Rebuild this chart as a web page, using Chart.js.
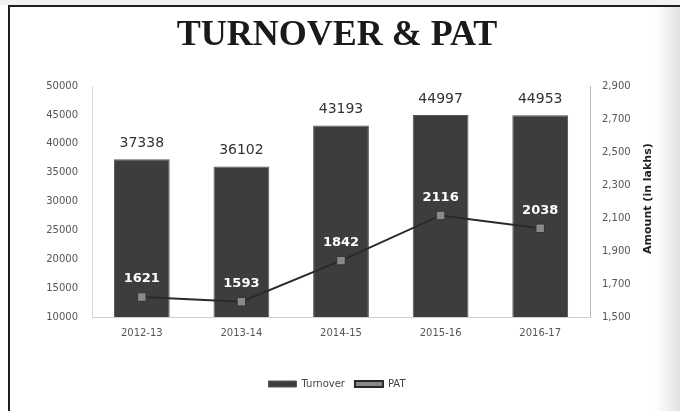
<!DOCTYPE html>
<html>
<head>
<meta charset="utf-8">
<script src="https://cdn.jsdelivr.net/npm/chart.js@4/dist/chart.umd.min.js"></script>
<style>
  body { margin: 0; background: #fff; }
  #wrap { width: 680px; height: 411px; }
</style>
</head>
<body>
<div id="wrap"><canvas id="turnoverChart" width="680" height="411"></canvas></div>
<script>
const years = ['2012-13', '2013-14', '2014-15', '2015-16', '2016-17'];
const turnover = [37338, 36102, 43193, 44997, 44953];
const pat = [1621, 1593, 1842, 2116, 2038];
const leftTicks = [10000, 15000, 20000, 25000, 30000, 35000, 40000, 45000, 50000];
const rightTicks = [1500, 1700, 1900, 2100, 2300, 2500, 2700, 2900];

// page frame: white paper, dark top and left rule, faint shade on the right
const framePlugin = {
  id: 'frame',
  beforeDraw(chart) {
    const c = chart.ctx;
    c.save();
    c.fillStyle = '#fff';
    c.fillRect(0, 0, chart.width, chart.height);
    const g = c.createLinearGradient(655, 0, 680, 0);
    g.addColorStop(0, 'rgba(225,225,225,0)');
    g.addColorStop(1, 'rgba(225,225,225,1)');
    c.fillStyle = g;
    c.fillRect(655, 0, 25, chart.height);
    c.fillStyle = '#f2f2f2';
    c.fillRect(0, 0, chart.width, 5);
    c.fillStyle = '#1e1e1e';
    c.fillRect(8, 5, chart.width - 8, 2);
    c.fillRect(8, 5, 2, chart.height - 5);
    c.restore();
  }
};

// value labels above bars and PAT points, plus the right axis title (reads upwards)
const labelPlugin = {
  id: 'valueLabels',
  afterDatasetsDraw(chart) {
    const c = chart.ctx;
    c.save();
    c.textAlign = 'center';
    c.textBaseline = 'middle';
    chart.getDatasetMeta(0).data.forEach((bar, i) => {
      c.font = '14px "DejaVu Sans"';
      c.fillStyle = '#333';
      c.fillText(turnover[i], bar.x, bar.y - 16);
    });
    chart.getDatasetMeta(1).data.forEach((pt, i) => {
      c.font = 'bold 13px "DejaVu Sans"';
      c.fillStyle = '#fff';
      c.fillText(pat[i], pt.x, pt.y - 18);
    });
    const ax = chart.scales.y1;
    c.translate(648, (ax.top + ax.bottom) / 2 - 3);
    c.rotate(-Math.PI / 2);
    c.font = 'bold 11px "DejaVu Sans"';
    c.fillStyle = '#222';
    c.fillText('Amount (in lakhs)', 0, 0);
    c.restore();
  }
};

const ctx = document.getElementById('turnoverChart').getContext('2d');
const turnoverChart = new Chart(ctx, {
  data: {
    labels: years,
    datasets: [{
      type: 'bar',
      label: 'Turnover',
      data: turnover,
      yAxisID: 'y',
      backgroundColor: '#3d3d3d',
      borderColor: '#555',
      borderWidth: 1,
      barPercentage: 0.56,
      categoryPercentage: 1,
      order: 2
    }, {
      type: 'line',
      label: 'PAT',
      data: pat,
      yAxisID: 'y1',
      borderColor: '#2a2a2a',
      borderWidth: 2,
      pointStyle: 'rect',
      pointRadius: 6,
      pointBackgroundColor: '#8a8a8a',
      pointBorderColor: '#333',
      pointBorderWidth: 1,
      order: 1
    }]
  },
  options: {
    responsive: false,
    animation: false,
    layout: { padding: { left: 12, right: 18, top: 6, bottom: 12 } },
    scales: {
      x: {
        grid: { display: false, drawTicks: false },
        border: { color: '#d0d0d0' },
        ticks: { color: '#555', font: { family: 'DejaVu Sans', size: 10 }, padding: 10 },
        afterFit(scale) { scale.height = 52; }
      },
      y: {
        position: 'left',
        min: 10000,
        max: 50000,
        afterBuildTicks(scale) { scale.ticks = leftTicks.map(v => ({ value: v })); },
        grid: { display: false, drawTicks: false },
        border: { color: '#d8d8d8' },
        ticks: {
          color: '#555',
          font: { family: 'DejaVu Sans', size: 10 },
          padding: 14,
          callback: v => String(v)
        },
        afterFit(scale) { scale.width = 80; }
      },
      y1: {
        position: 'right',
        min: 1500,
        max: 2900,
        afterBuildTicks(scale) { scale.ticks = rightTicks.map(v => ({ value: v })); },
        grid: { display: false, drawOnChartArea: false, drawTicks: true, tickLength: 4, color: '#bbb' },
        border: { color: '#bbb' },
        ticks: {
          color: '#555',
          font: { family: 'DejaVu Sans', size: 10 },
          padding: 8,
          callback: v => v.toLocaleString('en-US')
        },
        afterFit(scale) { scale.width = 72; }
      }
    },
    plugins: {
      title: {
        display: true,
        text: 'TURNOVER & PAT',
        color: '#1a1a1a',
        font: { family: 'Liberation Serif', size: 36, weight: 'bold' },
        padding: { top: 8, bottom: 29 }
      },
      legend: {
        position: 'bottom',
        labels: {
          color: '#444',
          font: { family: 'DejaVu Sans', size: 10 },
          boxWidth: 28,
          boxHeight: 6,
          padding: 10,
          sort: (a, b) => a.datasetIndex - b.datasetIndex,
          generateLabels(chart) {
            const items = Chart.defaults.plugins.legend.labels.generateLabels(chart);
            items.forEach(it => {
              if (it.datasetIndex === 1) {
                it.fillStyle = '#8a8a8a';
                it.strokeStyle = '#2a2a2a';
                it.lineWidth = 2;
              }
            });
            return items;
          }
        }
      },
      tooltip: { enabled: false }
    }
  },
  plugins: [framePlugin, labelPlugin]
});
</script>
</body>
</html>
